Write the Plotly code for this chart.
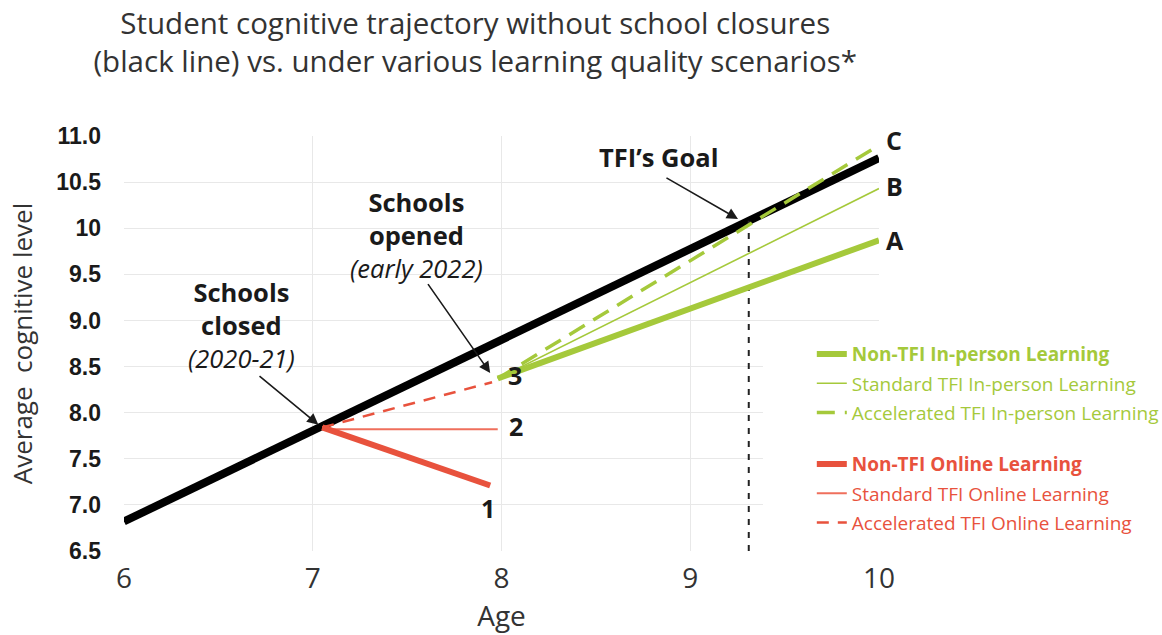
import plotly.graph_objects as go

# ---------------- data ----------------
baseline_age = [6, 10]
baseline_level = [6.82, 10.76]

online_start_age = 7.05
online_start_level = 7.84
online_non_age = [online_start_age, 7.94]
online_non_level = [online_start_level, 7.21]
online_std_age = [online_start_age, 7.98]
online_std_level = [7.82, 7.82]
online_acc_age = [online_start_age, 7.95]
online_acc_level = [online_start_level, 8.33]

inperson_age = [7.98, 10]
inperson_non_level = [8.37, 9.87]
inperson_std_level = [8.37, 10.43]
inperson_acc_level = [8.37, 10.90]

goal_age = [9.31, 9.31]
goal_level = [6.5, 10.08]

x_ticks = [6, 7, 8, 9, 10]
y_tickvals = [6.5, 7.0, 7.5, 8.0, 8.5, 9.0, 9.5, 10.0, 10.5, 11.0]
y_ticktext = ["6.5", "7.0", "7.5", "8.0", "8.5", "9.0", "9.5", "10", "10.5", "11.0"]

GREEN = "#a5c93b"
RED = "#e8523d"
RED_LIGHT = "#ef6f5c"
DARK = "#1a1a1a"
FONT = "Open Sans, Noto Sans, sans-serif"

fig = go.Figure()

# baseline
fig.add_trace(go.Scatter(x=baseline_age, y=baseline_level, mode="lines",
                         line=dict(color="black", width=8), showlegend=False,
                         hoverinfo="skip"))
# goal vertical dashed line
fig.add_trace(go.Scatter(x=goal_age, y=goal_level, mode="lines",
                         line=dict(color="#222", width=2, dash="6px,7px"),
                         showlegend=False, hoverinfo="skip"))

# in-person (green) group
fig.add_trace(go.Scatter(x=inperson_age, y=inperson_acc_level, mode="lines",
                         line=dict(color=GREEN, width=3.5, dash="18px,10px"),
                         name=f"<span style='color:{GREEN}'>Accelerated TFI In-person Learning</span>",
                         legend="legend", legendgroup="g3", legendrank=3))
fig.add_trace(go.Scatter(x=inperson_age, y=inperson_std_level, mode="lines",
                         line=dict(color=GREEN, width=1.6),
                         name=f"<span style='color:{GREEN}'>Standard TFI In-person Learning</span>",
                         legend="legend", legendgroup="g2", legendrank=2))
fig.add_trace(go.Scatter(x=inperson_age, y=inperson_non_level, mode="lines",
                         line=dict(color=GREEN, width=6),
                         name=f"<b><span style='color:{GREEN}'>Non-TFI In-person Learning</span></b>",
                         legend="legend", legendgroup="g1", legendrank=1))

# online (red) group
fig.add_trace(go.Scatter(x=online_acc_age, y=online_acc_level, mode="lines",
                         line=dict(color=RED, width=2.5, dash="12px,9px"),
                         name=f"<span style='color:{RED}'>Accelerated TFI Online Learning</span>",
                         legend="legend2", legendgroup="r3", legendrank=3))
fig.add_trace(go.Scatter(x=online_std_age, y=online_std_level, mode="lines",
                         line=dict(color=RED_LIGHT, width=2),
                         name=f"<span style='color:{RED}'>Standard TFI Online Learning</span>",
                         legend="legend2", legendgroup="r2", legendrank=2))
fig.add_trace(go.Scatter(x=online_non_age, y=online_non_level, mode="lines",
                         line=dict(color=RED, width=6),
                         name=f"<b><span style='color:{RED}'>Non-TFI Online Learning</span></b>",
                         legend="legend2", legendgroup="r1", legendrank=1))

# white block covering gridlines behind the legend
fig.add_shape(type="rect", xref="x", yref="y", x0=9.385, x1=10.2, y0=6.3, y1=8.8,
              fillcolor="white", line=dict(width=0), layer="between")

block_font = dict(family=FONT, size=25.5, color=DARK)

ann = []
# end labels
labels = [
    ("1", online_non_age[-1], online_non_level[-1], -2, -22),
    ("2", online_std_age[-1], online_std_level[-1], 18, 3),
    ("3", inperson_age[0], inperson_non_level[0], 17, 4),
    ("A", inperson_age[-1], inperson_non_level[-1], 16, 0),
    ("B", inperson_age[-1], inperson_std_level[-1], 15, 3),
    ("C", inperson_age[-1], inperson_acc_level[-1], 15, 5),
]
for t, x, y, xs, ys in labels:
    ann.append(dict(x=x, y=y, xref="x", yref="y", text=f"<b>{t}</b>", showarrow=False,
                    xshift=xs, yshift=ys, font=dict(family=FONT, size=25, color=DARK, weight="bold")))

# text blocks
texts = [
    ("<b>Schools<br>closed</b><br><i>(2020-21)</i>", 6.62, 8.95),
    ("<b>Schools<br>opened</b><br><i>(early 2022)</i>", 7.547, 9.93),
    ("<b>TFI\u2019s Goal</b>", 8.83, 10.77),
]
for t, x, y in texts:
    ann.append(dict(x=x, y=y, xref="x", yref="y", text=t, showarrow=False, font=block_font,
                    align="center"))

# arrows (head x,y ; tail ax,ay)
arrows = [
    (7.03, 7.87, 6.71, 8.41),
    (7.94, 8.43, 7.605, 9.41),
    (9.253, 10.10, 8.866, 10.555),
]
for x, y, ax, ay in arrows:
    ann.append(dict(x=x, y=y, ax=ax, ay=ay, xref="x", yref="y", axref="x", ayref="y",
                    text="", showarrow=True, arrowhead=2, arrowsize=1.4, arrowwidth=1.6,
                    arrowcolor=DARK, standoff=0))

fig.update_layout(
    width=1162, height=635, autosize=False,
    margin=dict(l=124, r=283, t=136, b=84, autoexpand=False),
    paper_bgcolor="white", plot_bgcolor="white",
    title=dict(text="Student cognitive trajectory without school closures<br>(black line) vs. under various learning quality scenarios*",
               x=0.409, xref="container", xanchor="center",
               y=0.947, yref="container", yanchor="top",
               font=dict(family=FONT, size=29.5, color="#333")),
    xaxis=dict(range=[6, 10], tickvals=x_ticks, showgrid=True, gridcolor="#e8e8e8", gridwidth=1,
               zeroline=False, showline=False, ticks="", ticklabelstandoff=8,
               tickfont=dict(family=FONT, size=28, color="#333"),
               title=dict(text="Age", standoff=4, font=dict(family=FONT, size=28, color="#333"))),
    yaxis=dict(range=[6.5, 11.0], tickvals=y_tickvals, ticktext=y_ticktext, showgrid=True,
               gridcolor="#e8e8e8", gridwidth=1, zeroline=False, showline=False, ticks="",
               ticklabelstandoff=22,
               tickfont=dict(family="Liberation Sans, Arial, sans-serif", size=23, color=DARK, weight="bold"),
               title=dict(text="Average  cognitive level", standoff=16,
                          font=dict(family=FONT, size=26, color="#333"))),
    legend=dict(x=0.911, xanchor="left", y=0.52, yanchor="top", bgcolor="rgba(0,0,0,0)",
                font=dict(family=FONT, size=19), tracegroupgap=1.5, traceorder="grouped",
                itemclick=False),
    legend2=dict(x=0.911, xanchor="left", y=0.255, yanchor="top", bgcolor="rgba(0,0,0,0)",
                 font=dict(family=FONT, size=19), tracegroupgap=1.5, traceorder="grouped",
                 itemclick=False),
    annotations=ann,
    showlegend=True,
)

fig.write_html("out.html", config={"displayModeBar": False},
               post_script="document.body.style.margin='0';")
